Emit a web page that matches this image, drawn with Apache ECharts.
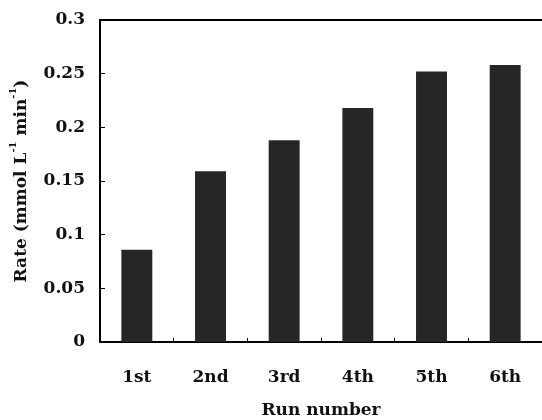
<!DOCTYPE html>
<html>
<head>
<meta charset="utf-8">
<script src="https://cdn.jsdelivr.net/npm/echarts@6/dist/echarts.min.js"></script>
<style>html,body{margin:0;padding:0;background:#fff}#c{width:542px;height:420px}</style>
</head>
<body>
<div id="c"></div>
<script>
const categories = ['1st', '2nd', '3rd', '4th', '5th', '6th'];
const rates = [0.086, 0.159, 0.188, 0.218, 0.252, 0.258];
const yTicks = [0, 0.05, 0.1, 0.15, 0.2, 0.25, 0.3];

const FONT = 'DejaVu Serif';
const chart = echarts.init(document.getElementById('c'), null, {renderer: 'canvas'});
chart.setOption({
  animation: false,
  backgroundColor: '#fff',
  grid: {left: 100, right: 0, top: 20, bottom: 78, containLabel: false, outerBoundsMode: 'none'},
  xAxis: [{
    type: 'category',
    data: categories,
    position: 'bottom',
    name: 'Run number',
    nameLocation: 'middle',
    nameGap: 60,
    nameTextStyle: {fontFamily: FONT, fontSize: 17, color: '#111', fontWeight: 'bold'},
    axisLine: {lineStyle: {color: '#000', width: 2}},
    axisTick: {show: true, inside: true, length: 4, lineStyle: {color: '#000', width: 1}},
    axisLabel: {fontFamily: FONT, fontSize: 17, color: '#111', fontWeight: 'bold', margin: 27}
  }, {
    type: 'category',
    data: categories,
    position: 'top',
    axisLine: {show: true, lineStyle: {color: '#000', width: 2}},
    axisTick: {show: false},
    axisLabel: {show: false}
  }],
  yAxis: {
    type: 'value',
    min: yTicks[0],
    max: yTicks[yTicks.length - 1],
    interval: 0.05,
    name: '{a|Rate (mmol L}{s|-1}{a| min}{s|-1}{a|)}',
    nameLocation: 'middle',
    nameRotate: 90,
    nameGap: 70,
    nameTextStyle: {
      padding: [0, 0, 0, 0],
      rich: {
        a: {fontFamily: FONT, fontSize: 17, color: '#111', fontWeight: 'bold', lineHeight: 22, verticalAlign: 'bottom'},
        s: {fontFamily: FONT, fontSize: 10, color: '#111', fontWeight: 'bold', lineHeight: 22, verticalAlign: 'top'}
      }
    },
    splitLine: {show: false},
    axisLine: {show: true, lineStyle: {color: '#000', width: 2}},
    axisTick: {show: true, inside: true, length: 5, lineStyle: {color: '#000', width: 1}},
    axisLabel: {
      fontFamily: FONT, fontSize: 17, color: '#111', fontWeight: 'bold', margin: 15,
      formatter: v => String(parseFloat(v.toFixed(2)))
    }
  },
  series: [{
    type: 'bar',
    data: rates,
    barWidth: '42%',
    itemStyle: {color: '#262626'}
  }]
});
</script>
</body>
</html>
